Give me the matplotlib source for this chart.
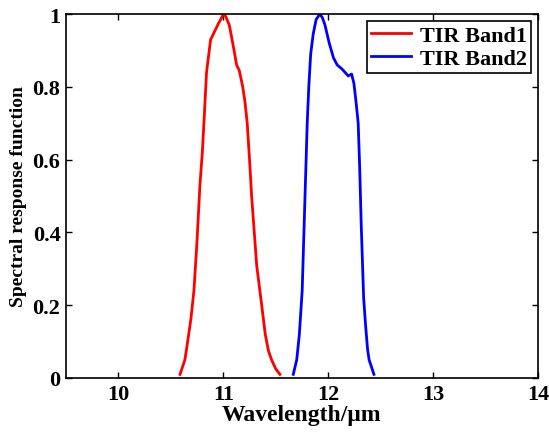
import matplotlib
matplotlib.use("Agg")
import matplotlib.pyplot as plt

band1_wl = [10.587, 10.634, 10.66, 10.69, 10.72, 10.75, 10.777, 10.80, 10.815, 10.84,
            10.879, 10.905, 10.93, 10.955, 10.975, 11.0, 11.02, 11.057, 11.09, 11.127,
            11.152, 11.185, 11.206, 11.228, 11.25, 11.27, 11.318, 11.366, 11.40, 11.43,
            11.46, 11.50, 11.54]
band1_val = [0.01, 0.05, 0.10, 0.16, 0.24, 0.38, 0.53, 0.62, 0.70, 0.84,
             0.93, 0.945, 0.96, 0.975, 0.985, 1.0, 0.995, 0.97, 0.92, 0.86,
             0.845, 0.80, 0.76, 0.70, 0.60, 0.50, 0.31, 0.20, 0.12, 0.075,
             0.05, 0.025, 0.01]

band2_wl = [11.667, 11.70, 11.725, 11.752, 11.778, 11.80, 11.815, 11.833, 11.857, 11.885,
            11.92, 11.945, 11.969, 12.01, 12.05, 12.086, 12.128, 12.16, 12.191, 12.223,
            12.245, 12.265, 12.286, 12.30, 12.315, 12.338, 12.355, 12.375, 12.39, 12.436]
band2_val = [0.01, 0.05, 0.12, 0.24, 0.49, 0.70, 0.80, 0.89, 0.945, 0.985,
             1.0, 0.99, 0.97, 0.92, 0.88, 0.86, 0.85, 0.84, 0.83, 0.835,
             0.81, 0.76, 0.70, 0.58, 0.42, 0.22, 0.15, 0.08, 0.05, 0.01]

xticks = [10, 11, 12, 13, 14]
yticks = [0, 0.2, 0.4, 0.6, 0.8, 1]
ytick_labels = ["0", "0.2", "0.4", "0.6", "0.8", "1"]

plt.rcParams['font.family'] = ['Liberation Serif', 'DejaVu Serif']
plt.rcParams['font.weight'] = 'bold'

fig = plt.figure(figsize=(5.49, 4.39), dpi=100)
ax = fig.add_axes([0.1202, 0.1367, 0.8597, 0.829])

ax.plot(band1_wl, band1_val, color='#ff0000', lw=2.0, label='TIR Band1')
ax.plot(band2_wl, band2_val, color='#0000ff', lw=2.0, label='TIR Band2')

ax.set_xlim(9.5, 14)
ax.set_ylim(0, 1)
ax.set_xticks(xticks)
ax.set_xticklabels([str(t) for t in xticks])
ax.set_yticks(yticks)
ax.set_yticklabels(ytick_labels)
ax.tick_params(direction='in', top=True, right=True, length=4, width=1,
               labelsize=16, pad=4)
for lab in ax.get_xticklabels() + ax.get_yticklabels():
    lab.set_fontweight('bold')
for s in ax.spines.values():
    s.set_linewidth(1.2)

ax.set_xlabel('Wavelength/μm', fontsize=17, fontweight='bold', labelpad=0)
ax.set_ylabel('Spectral response function', fontsize=14, fontweight='bold', labelpad=4)

leg = ax.legend(loc='upper right', fontsize=16, frameon=True, fancybox=False,
                edgecolor='black', framealpha=1, handlelength=1.8,
                borderaxespad=0.3, borderpad=0.2, labelspacing=0.1, handletextpad=0.4)
leg.get_frame().set_linewidth(1.2)
for t in leg.get_texts():
    t.set_fontweight('bold')

fig.savefig('out.png', dpi=100)
